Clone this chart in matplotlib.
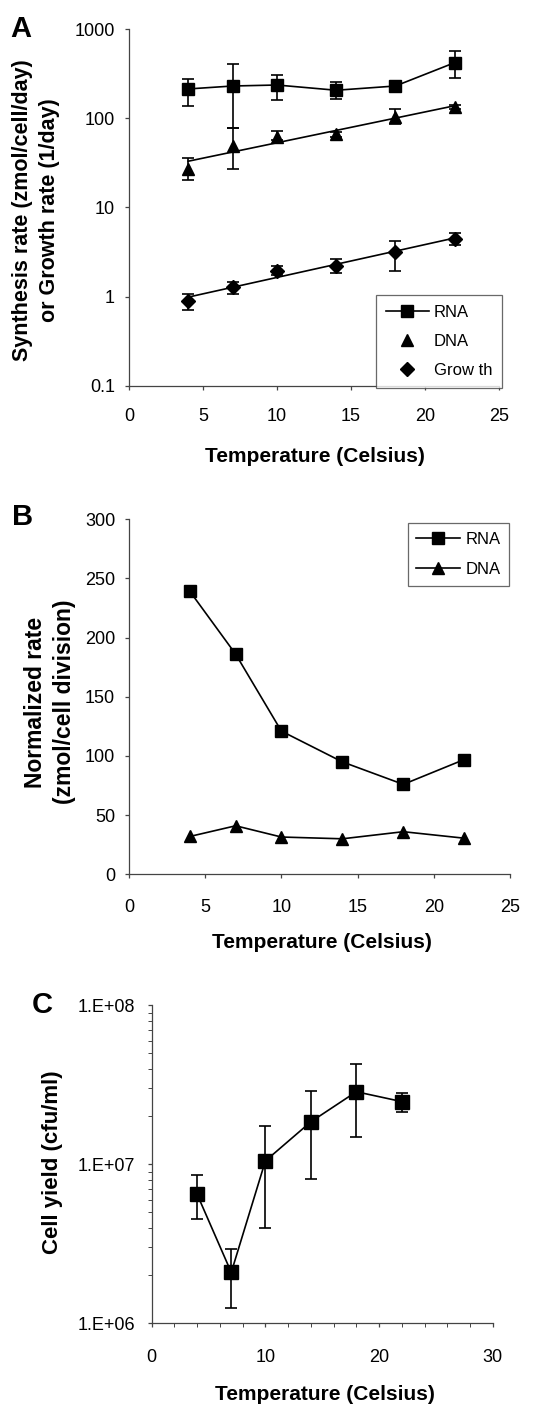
import numpy as np
import matplotlib
matplotlib.use("Agg")
import matplotlib.pyplot as plt
from matplotlib.ticker import FixedLocator, NullLocator, LogLocator, NullFormatter

plt.rcParams['font.family'] = ['Liberation Sans', 'DejaVu Sans']

# ---------------- data ----------------
temps = [4, 7, 10, 14, 18, 22]

# Panel A (log scale)
rna_rate = [214, 231, 237, 207, 231, 422]
rna_err_hi = [275, 405, 310, 256, 255, 571]
rna_err_lo = [138, 79, 161, 165, 210, 287]

dna_rate = [27, 49.5, 62.4, 66.3, 103, 133]
dna_err_hi = [35.6, 78.7, 72.9, 70, 128, 140]
dna_err_lo = [20.4, 27, 57, 62, 86, 126]

growth_rate = [0.90, 1.27, 1.95, 2.23, 3.14, 4.48]
growth_err_hi = [1.06, 1.44, 2.23, 2.62, 4.25, 5.18]
growth_err_lo = [0.71, 1.07, 1.75, 1.86, 1.94, 3.80]

# Panel B
rna_norm = [239, 186, 121, 95, 76, 97]
dna_norm = [32, 41, 31.5, 30, 36, 30.5]

# Panel C (log scale)
yield_cfu = [6.47e6, 2.09e6, 1.05e7, 1.85e7, 2.86e7, 2.48e7]
yield_err_hi = [8.53e6, 2.95e6, 1.73e7, 2.88e7, 4.26e7, 2.80e7]
yield_err_lo = [4.51e6, 1.25e6, 4.0e6, 8.09e6, 1.49e7, 2.12e7]

xticks_ab = [0, 5, 10, 15, 20, 25]
xticks_c = [0, 10, 20, 30]
yticks_a = [0.1, 1, 10, 100, 1000]
yticks_a_labels = ['0.1', '1', '10', '100', '1000']
yticks_b = [0, 50, 100, 150, 200, 250, 300]
yticks_c = [1e6, 1e7, 1e8]
yticks_c_labels = ['1.E+06', '1.E+07', '1.E+08']

# ---------------- figure ----------------
W, H = 544, 1406
fig = plt.figure(figsize=(W / 100, H / 100), dpi=100)

def ax_at(l, r, t, b):
    return fig.add_axes([l / W, 1 - b / H, (r - l) / W, (b - t) / H])

def fx(px):
    return px / W

def fy(py):
    return 1 - py / H

axcol = '#444444'
tick_fs = 13
xlab_fs = 15
ylab_fs = 16
leg_fs = 12
mk = 9
cap = 4.3

def style(ax, xpad, ypad):
    for s in ['top', 'right']:
        ax.spines[s].set_visible(False)
    for s in ['left', 'bottom']:
        ax.spines[s].set_color(axcol)
        ax.spines[s].set_linewidth(0.9)
    ax.tick_params(which='major', direction='out', length=3, width=0.9, color=axcol,
                   labelsize=tick_fs)
    ax.tick_params(axis='x', which='major', pad=xpad)
    ax.tick_params(axis='y', which='major', pad=ypad)
    ax.tick_params(which='minor', direction='out', length=3, width=0.7, color=axcol)

def yerr(vals, hi, lo):
    v = np.array(vals, float)
    return np.vstack([v - np.array(lo, float), np.array(hi, float) - v])

def labels(ax, xlabel, xpos, ylabel, ypos, lsp=1.2):
    ax.set_xlabel(xlabel, fontsize=xlab_fs, fontweight='bold', va='center')
    ax.xaxis.set_label_coords(fx(xpos[0]), fy(xpos[1]), transform=fig.transFigure)
    ax.set_ylabel(ylabel, fontsize=ylab_fs, fontweight='bold', va='center',
                  linespacing=lsp)
    ax.yaxis.set_label_coords(fx(ypos[0]), fy(ypos[1]), transform=fig.transFigure)

t = np.array(temps, float)
ekw = dict(fmt='none', ecolor='black', elinewidth=1.2, capsize=cap, capthick=1.2, zorder=2)

# ---------------- Panel A ----------------
axA = ax_at(129, 499, 29.3, 385.7)
style(axA, 13, 7)
axA.set_yscale('log')
axA.set_xlim(0, 25)
axA.set_ylim(0.1, 1000)

axA.errorbar(t, rna_rate, yerr=yerr(rna_rate, rna_err_hi, rna_err_lo), **ekw)
axA.errorbar(t, dna_rate, yerr=yerr(dna_rate, dna_err_hi, dna_err_lo), **ekw)
axA.errorbar(t, growth_rate, yerr=yerr(growth_rate, growth_err_hi, growth_err_lo), **ekw)

axA.plot(t, rna_rate, '-', color='black', lw=1.2, marker='s', ms=mk, label='RNA', zorder=3)
axA.plot(t, dna_rate, 'none', color='black', marker='^', ms=mk, lw=0, label='DNA', zorder=3)
axA.plot(t, growth_rate, 'none', color='black', marker='D', ms=7.5, lw=0, label='Grow th',
         zorder=3)

# exponential trendlines (least squares on log values)
for vals in (dna_rate, growth_rate):
    p = np.polyfit(t, np.log10(vals), 1)
    xx = np.array([t.min(), t.max()])
    axA.plot(xx, 10 ** np.polyval(p, xx), '-', color='black', lw=1.2, zorder=2)

axA.xaxis.set_major_locator(FixedLocator(xticks_ab))
axA.yaxis.set_major_locator(FixedLocator(yticks_a))
axA.yaxis.set_minor_locator(NullLocator())
axA.set_yticklabels(yticks_a_labels)
labels(axA, 'Temperature (Celsius)', (315, 456),
       'Synthesis rate (zmol/cell/day)\nor Growth rate (1/day)', (36, 210), lsp=1.4)
axA.yaxis.label.set_fontsize(15.5)

legA = axA.legend(loc='lower right', bbox_to_anchor=(fx(502), fy(388)),
                  bbox_transform=fig.transFigure, fontsize=leg_fs, frameon=True,
                  fancybox=False, borderaxespad=0, handlelength=2.6, handletextpad=0.3,
                  labelspacing=0.86, borderpad=0.58)
legA.get_frame().set_edgecolor(axcol)
legA.get_frame().set_linewidth(0.9)

fig.text(fx(10), fy(37), 'A', fontsize=21, fontweight='bold', ha='left', va='baseline')

# ---------------- Panel B ----------------
axB = ax_at(129, 510, 519.3, 874.3)
style(axB, 14.5, 7)
axB.set_xlim(0, 25)
axB.set_ylim(0, 300)
axB.plot(t, rna_norm, '-', color='black', lw=1.2, marker='s', ms=mk, label='RNA')
axB.plot(t, dna_norm, '-', color='black', lw=1.2, marker='^', ms=mk, label='DNA')
axB.xaxis.set_major_locator(FixedLocator(xticks_ab))
axB.yaxis.set_major_locator(FixedLocator(yticks_b))
labels(axB, 'Temperature (Celsius)', (322, 943),
       'Normalized rate\n(zmol/cell division)', (50, 702), lsp=1.3)
axB.yaxis.label.set_fontsize(16.5)

legB = axB.legend(loc='upper right', bbox_to_anchor=(fx(509), fy(523)),
                  bbox_transform=fig.transFigure, fontsize=leg_fs, frameon=True,
                  fancybox=False, borderaxespad=0, handlelength=2.63, handletextpad=0.3,
                  labelspacing=0.92, borderpad=0.52)
legB.get_frame().set_edgecolor(axcol)
legB.get_frame().set_linewidth(0.9)
fig.text(fx(12), fy(525), 'B', fontsize=21, fontweight='bold', ha='left', va='baseline')

# ---------------- Panel C ----------------
axC = ax_at(151.7, 492.7, 1005.3, 1323.3)
style(axC, 15.3, 9)
axC.set_yscale('log')
axC.set_xlim(0, 30)
axC.set_ylim(1e6, 1e8)
axC.errorbar(t, yield_cfu, yerr=yerr(yield_cfu, yield_err_hi, yield_err_lo), **ekw)
axC.plot(t, yield_cfu, '-', color='black', lw=1.2, marker='s', ms=9.5, zorder=3)
axC.xaxis.set_major_locator(FixedLocator(xticks_c))
axC.xaxis.set_minor_locator(FixedLocator(np.arange(0, 31, 2)))
axC.yaxis.set_major_locator(FixedLocator(yticks_c))
axC.yaxis.set_minor_locator(LogLocator(base=10, subs=np.arange(2, 10)))
axC.yaxis.set_minor_formatter(NullFormatter())
axC.set_yticklabels(yticks_c_labels)
labels(axC, 'Temperature (Celsius)', (325, 1395), 'Cell yield (cfu/ml)', (53, 1162))
fig.text(fx(32), fy(1013), 'C', fontsize=21, fontweight='bold', ha='left', va='baseline')

fig.savefig('out.png', dpi=100)
